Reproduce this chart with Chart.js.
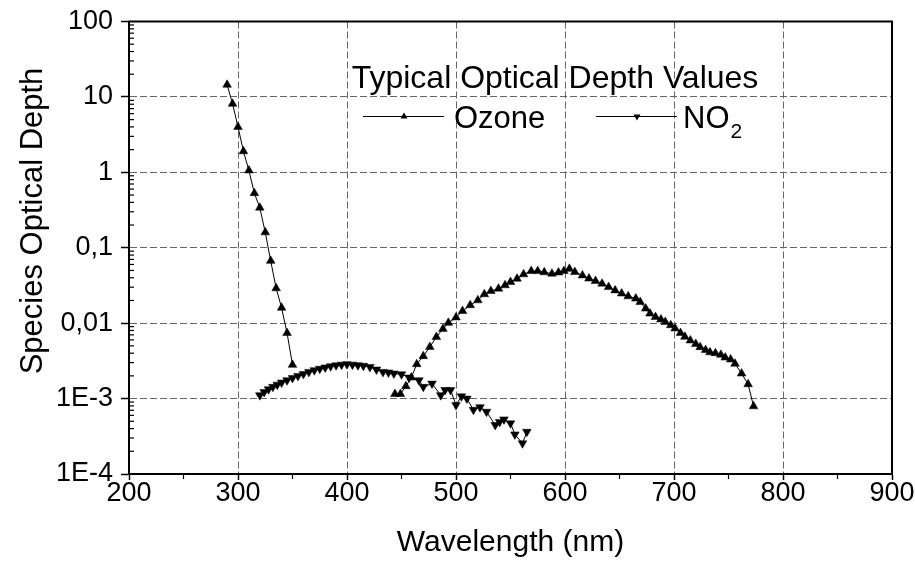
<!DOCTYPE html>
<html><head><meta charset="utf-8">
<script src="https://cdn.jsdelivr.net/npm/chart.js@4/dist/chart.umd.min.js"></script>
<style>html,body{margin:0;padding:0;background:#fff}#wrap{width:915px;height:568px}</style>
</head><body><div id="wrap"><canvas id="c" width="915" height="568"></canvas></div>
<script>
// ---- data (wavelength in nm, optical depth) ----
const ozoneUvWavelength = [290,295,300,305,310,315,320,325,330,335,340,345,350];
const ozoneUvDepth      = [14.5,8.1,4.0,1.9,1.06,0.53,0.34,0.16,0.067,0.029,0.016,0.0074,0.0028];

const ozoneVisWavelength = [444,449,454,459,464,470,476,482,488,493,500,506,513,520,526,532,539,545,550,556,562,569,575,581,588,594,599,604,609,616,622,628,634,640,646,652,658,665,669,674,678,683,688,692,697,701,706,710,715,720,724,729,733,738,743,747,752,756,762,768,773];
const ozoneVisDepth      = [0.00115,0.00115,0.00146,0.0019,0.00286,0.00365,0.00484,0.00656,0.0084,0.0101,0.0119,0.0145,0.0173,0.0201,0.0242,0.0267,0.0287,0.0318,0.0351,0.0389,0.0444,0.0491,0.049,0.0472,0.0453,0.047,0.049,0.0525,0.0476,0.043,0.039,0.0362,0.0334,0.0301,0.0272,0.0247,0.0227,0.0212,0.0191,0.0156,0.0134,0.0121,0.0112,0.0104,0.0094,0.0085,0.0074,0.0066,0.0059,0.0053,0.0048,0.0044,0.0041,0.0040,0.0038,0.0035,0.0033,0.0029,0.00215,0.00155,0.00079];

const no2Wavelength = [320,324,328,332,336,340,345,350,355,360,365,370,375,380,385,390,395,400,405,410,415,421,427,433,438,443,450,457,466,470,478,486,490,495,500,505,510,516,522,528,536,540,544,550,554,561,565];
const no2Depth      = [0.00111,0.00122,0.00133,0.00143,0.00153,0.00163,0.00175,0.00188,0.002,0.00212,0.00226,0.00238,0.00249,0.00259,0.00268,0.00276,0.00282,0.00286,0.00282,0.00277,0.00272,0.00263,0.00243,0.00226,0.00222,0.00215,0.0021,0.0019,0.00175,0.00143,0.00158,0.00111,0.0013,0.0013,0.00082,0.00107,0.001,0.00071,0.00077,0.00067,0.000446,0.00049,0.00053,0.00047,0.000335,0.000255,0.000363];

const xTickValues = [200,300,400,500,600,700,800,900];
const xTickLabels = ['200','300','400','500','600','700','800','900'];
const yTickValues = [1e-4,1e-3,1e-2,1e-1,1,10,100];
const yTickLabels = ['1E-4','1E-3','0,01','0,1','1','10','100'];

const legendTitle = 'Typical Optical Depth Values';
const seriesNames = ['Ozone','NO'];
const xTitle = 'Wavelength (nm)';
const yTitle = 'Species Optical Depth';

const pts = (xs, ys) => xs.map((x, i) => ({x, y: ys[i]}));
const FONT = '"Liberation Sans", Arial, sans-serif';

function tri(ctx, x, y, r, down) {
  const s = down ? -1 : 1;
  ctx.beginPath();
  ctx.moveTo(x, y - s * r);
  ctx.lineTo(x + r * 0.866, y + s * r * 0.5);
  ctx.lineTo(x - r * 0.866, y + s * r * 0.5);
  ctx.closePath();
  ctx.fill();
}

const decor = {
  id: 'decor',
  beforeDatasetsDraw(chart) {
    const {ctx, chartArea: a, scales: {x, y}} = chart;
    ctx.save();
    ctx.strokeStyle = '#000';
    ctx.lineWidth = 1.2;
    for (let n = -4; n <= 1; n++) {
      for (let k = 2; k <= 9; k++) {
        const py = y.getPixelForValue(k * Math.pow(10, n));
        ctx.beginPath(); ctx.moveTo(a.left, py); ctx.lineTo(a.left + 5, py); ctx.stroke();
      }
    }
    for (let v = 250; v < 900; v += 100) {
      const px = x.getPixelForValue(v);
      ctx.beginPath(); ctx.moveTo(px, a.bottom); ctx.lineTo(px, a.bottom + 5); ctx.stroke();
    }
    ctx.restore();
  },
  afterDraw(chart) {
    const {ctx, chartArea: a} = chart;
    ctx.save();
    ctx.strokeStyle = '#000';
    ctx.lineWidth = 2;
    ctx.strokeRect(a.left, a.top, a.right - a.left, a.bottom - a.top);
    ctx.fillStyle = '#000';
    ctx.font = '31px ' + FONT;
    ctx.textAlign = 'center';
    ctx.textBaseline = 'middle';
    ctx.translate(33, 221);
    ctx.rotate(-Math.PI / 2);
    ctx.fillText(yTitle, 0, 0);
    ctx.restore();

    ctx.save();
    ctx.fillStyle = '#000';
    ctx.strokeStyle = '#000';
    ctx.textBaseline = 'alphabetic';
    ctx.font = '32px ' + FONT;
    ctx.textAlign = 'center';
    ctx.fillText(legendTitle, 555, 88);
    ctx.textAlign = 'left';
    ctx.lineWidth = 1;
    ctx.beginPath(); ctx.moveTo(363, 116.5); ctx.lineTo(444, 116.5); ctx.stroke();
    tri(ctx, 404, 116.5, 4, false);
    ctx.font = '31px ' + FONT;
    ctx.fillText(seriesNames[0], 454, 128);
    ctx.beginPath(); ctx.moveTo(596, 116.5); ctx.lineTo(677, 116.5); ctx.stroke();
    tri(ctx, 637, 116.5, 4, true);
    ctx.fillText(seriesNames[1], 683, 128);
    const w = ctx.measureText(seriesNames[1]).width;
    ctx.font = '21px ' + FONT;
    ctx.fillText('2', 683 + w + 1, 138);
    ctx.restore();
  }
};

const lineStyle = {
  showLine: true, borderColor: '#000', borderWidth: 1, backgroundColor: '#000',
  pointBackgroundColor: '#000', pointBorderColor: '#000', pointBorderWidth: 0.5,
  pointRadius: 5, pointStyle: 'triangle', fill: false, tension: 0
};

new Chart(document.getElementById('c'), {
  type: 'scatter',
  data: {
    datasets: [
      Object.assign({label: 'Ozone', data: pts(ozoneUvWavelength, ozoneUvDepth)}, lineStyle),
      Object.assign({label: 'Ozone', data: pts(ozoneVisWavelength, ozoneVisDepth)}, lineStyle),
      Object.assign({label: 'NO2', data: pts(no2Wavelength, no2Depth), pointRotation: 180}, lineStyle)
    ]
  },
  options: {
    responsive: false, animation: false, devicePixelRatio: 1,
    layout: {padding: {left: 0, top: 21, right: 23, bottom: 0}},
    plugins: {legend: {display: false}, tooltip: {enabled: false}},
    scales: {
      x: {
        type: 'linear', min: 200, max: 900,
        afterFit: s => { s.height = 94; },
        afterBuildTicks: s => { s.ticks = xTickValues.map(v => ({value: v})); },
        ticks: {
          autoSkip: false, maxRotation: 0, padding: 0, color: '#000',
          font: {family: FONT, size: 27, lineHeight: 1},
          callback: (v) => xTickLabels[xTickValues.indexOf(v)]
        },
        grid: {color: '#666', lineWidth: 1, tickLength: 6, tickColor: '#000', tickWidth: 1.5},
        border: {display: true, color: '#000', width: 2, dash: [7, 3]},
        title: {display: true, text: xTitle, color: '#000', font: {family: FONT, size: 30, lineHeight: 1.2}, padding: {top: 0, bottom: 7}}
      },
      y: {
        type: 'logarithmic', min: 1e-4, max: 100,
        afterFit: s => { s.width = 129; },
        afterBuildTicks: s => { s.ticks = yTickValues.map(v => ({value: v})); },
        ticks: {
          autoSkip: false, padding: 8, color: '#000',
          font: {family: FONT, size: 27, lineHeight: 1},
          callback: (v) => yTickLabels[yTickValues.findIndex(t => Math.abs(t - v) / t < 1e-6)]
        },
        grid: {color: '#666', lineWidth: 1, tickLength: 8, tickColor: '#000', tickWidth: 1.5},
        border: {display: true, color: '#000', width: 2, dash: [7, 3]}
      }
    }
  },
  plugins: [decor]
});
</script>
</body></html>
